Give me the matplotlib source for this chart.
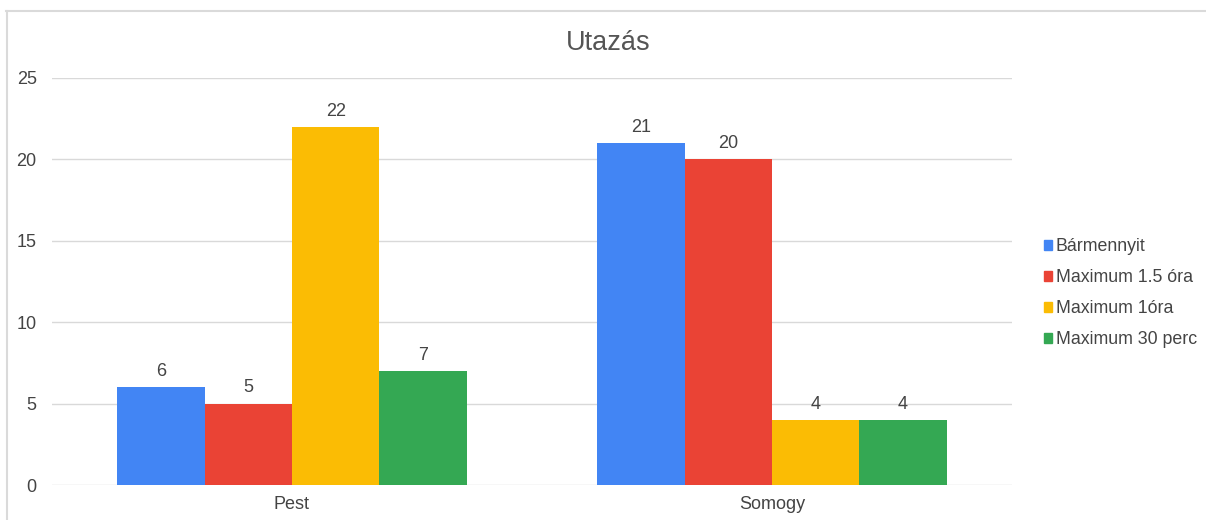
import numpy as np
import matplotlib.pyplot as plt
from matplotlib.lines import Line2D

plt.rcParams['font.family'] = ['Liberation Sans', 'DejaVu Sans']

categories = ['Pest', 'Somogy']
series_names = ['Bármennyit', 'Maximum 1.5 óra', 'Maximum 1óra', 'Maximum 30 perc']
values = [
    [6, 21],   # Bármennyit
    [5, 20],   # Maximum 1.5 óra
    [22, 4],   # Maximum 1óra
    [7, 4],    # Maximum 30 perc
]
colors = ['#4285F4', '#EA4335', '#FBBC04', '#34A853']
yticks = [0, 5, 10, 15, 20, 25]

fig = plt.figure(figsize=(12.06, 5.2), dpi=100)
ax = fig.add_axes([0.0431, 0.0673, 0.7960, 0.7827])

x = np.arange(len(categories))
width = 0.182
offsets = (np.arange(len(series_names)) - 1.5) * width

for i, name in enumerate(series_names):
    bars = ax.bar(x + offsets[i], values[i], width, color=colors[i], label=name, zorder=3)
    for b, v in zip(bars, values[i]):
        ax.text(b.get_x() + b.get_width() / 2, v + 0.45, str(v), ha='center', va='bottom',
                fontsize=13, color='#444444')

ax.set_xlim(-0.5, len(categories) - 0.5)
ax.set_ylim(0, 25)
ax.set_yticks(yticks)
ax.set_xticks(x)
ax.set_xticklabels(categories)
ax.tick_params(axis='both', length=0, labelsize=13, labelcolor='#444444')
ax.tick_params(axis='y', pad=11)
ax.tick_params(axis='x', pad=8)
ax.grid(axis='y', color='#d9d9d9', linewidth=1, zorder=0)
for s in ax.spines.values():
    s.set_visible(False)

fig.text(0.504, 0.918, 'Utazás', ha='center', va='center', fontsize=19.5, color='#555555')

handles = [plt.Rectangle((0, 0), 1, 1, color=c) for c in colors]
fig.legend(handles, series_names, loc='center left', bbox_to_anchor=(0.852, 0.436),
           frameon=False, fontsize=12.8, labelcolor='#444444', handlelength=0.45,
           handleheight=0.45, handletextpad=0.25, labelspacing=0.78)

# screenshot border at top and left
fig.add_artist(Line2D([6 / 1206, 1], [1 - 10.5 / 520] * 2, color='#dadada', linewidth=1.5,
                      transform=fig.transFigure))
fig.add_artist(Line2D([6.5 / 1206] * 2, [0, 1 - 10.5 / 520], color='#dadada', linewidth=1.5,
                      transform=fig.transFigure))

fig.savefig('out.png', dpi=100)
